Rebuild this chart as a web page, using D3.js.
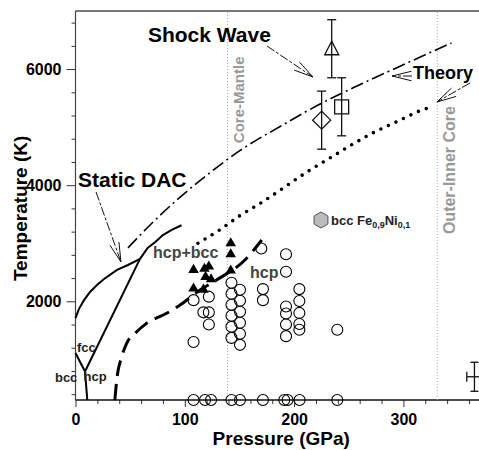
<!DOCTYPE html>
<html><head><meta charset="utf-8">
<script src="https://cdn.jsdelivr.net/npm/d3@7"></script>
<style>
html,body{margin:0;padding:0;background:#fff;}
svg text{font-family:"Liberation Sans",Arial,Helvetica,sans-serif;font-weight:bold;}
</style></head><body>
<svg id="chart" width="479" height="450"></svg>
<script>
// ---------- data ----------
const xMajorTicks = [0, 100, 200, 300];
const xMinorTicks = [20,40,60,80,120,140,160,180,220,240,260,280,320,340,360];
const yMajorTicks = [2000, 4000, 6000];
const yMinorTicks = [400,800,1200,1600,2400,2800,3200,3600,4400,4800,5200,5600,6400,6800];

// Static DAC melting curve (solid)
const meltP = [0, 3.2, 7.8, 13.3, 19.7, 26.1, 38, 48, 59, 66, 73, 80, 88, 97];
const meltT = [1710, 1870, 2020, 2160, 2280, 2385, 2540, 2625, 2730, 2920, 3020, 3140, 3230, 3310];
// fcc/hcp boundary
const fccHcpP = [59, 8.7];
const fccHcpT = [2730, 790];
// bcc/fcc boundary
const bccFccP = [0, 8.7];
const bccFccT = [1110, 790];
// bcc/hcp boundary
const bccHcpP = [8.7, 10.8];
const bccHcpT = [790, 300];
// hcp / hcp+bcc boundary (thick dashed)
const hcpBndP = [36, 37.7, 42.3, 46.8, 56, 65, 83.4, 95.7, 114, 129, 155, 170.4];
const hcpBndT = [300, 644, 1046, 1277, 1476, 1620, 1793, 1936, 2195, 2367, 2711, 3056];
// Theory (dash-dot)
const theoryP = [48, 68, 93, 118, 150, 188, 226, 260, 297, 344];
const theoryT = [2920, 3310, 3750, 4140, 4590, 5020, 5420, 5730, 6050, 6450];
// Theory (dotted)
const dotP = [112, 132, 150, 171, 190, 212, 233, 254, 272, 297, 315, 328];
const dotT = [3000, 3230, 3470, 3710, 3950, 4230, 4470, 4710, 4900, 5120, 5280, 5360];
// hcp+bcc points (filled triangles)
const triP = [108, 118, 122, 119, 124, 108, 117, 142, 142, 142];
const triT = [2540, 2560, 2600, 2420, 2380, 2220, 2200, 3000, 2810, 2530];
// hcp points (open circles)
const circP = [108, 122, 117, 122, 122, 108,
  142.7, 142.7, 142.7, 142.7, 142.7, 142.7,
  150.5, 150.5, 150.5, 150.5, 150.5, 150.5,
  170, 171.5, 171.5,
  192.6, 192.6, 192.6, 192.6, 192.6, 192.6,
  204.8, 204.8, 204.8, 204.8, 204.8,
  239.5,
  108, 118.5, 124, 142.7, 150.5, 171.5, 191, 194, 205, 239.5];
const circT = [2020, 2080, 1810, 1810, 1600, 1300,
  2320, 2130, 1940, 1750, 1560, 1370,
  2200, 2010, 1820, 1630, 1440, 1250,
  2910, 2210, 2020,
  2810, 2510, 1910, 1790, 1600, 1400,
  2210, 2005, 1800, 1610, 1510,
  1510,
  300, 300, 300, 300, 300, 300, 300, 300, 300, 300];
// Shock wave points
const shockNames = ["triangle", "square", "diamond"];
const shockP = [234.4, 243.5, 225.2];
const shockT = [6350, 5350, 5120];
const shockErr = [500, 500, 500];
// representative error bar
const errP = [365], errT = [700], errDP = [7], errDT = [250];
// boundaries
const cmbP = 139, icbP = 331;
// bcc Fe0.9Ni0.1 marker
const feniP = [224.6], feniT = [3400];

// ---------- scales ----------
const svg = d3.select("#chart");
const x = d3.scaleLinear().domain([0, 370]).range([75.5, 75.5 + 370 * 1.093]);
const y = d3.scaleLinear().domain([300, 7000]).range([400, 11]);
const zip = (a, b) => a.map((v, i) => [v, b[i]]);
const line = d3.line().x(d => x(d[0])).y(d => y(d[1]));
const smooth = d3.line().x(d => x(d[0])).y(d => y(d[1])).curve(d3.curveMonotoneX);

// ---------- axes ----------
const fontAxis = "16px";
// y minor
svg.append("g").attr("transform", `translate(${x(0)},0)`)
  .call(d3.axisLeft(y).tickValues(yMinorTicks).tickSize(4).tickSizeOuter(0).tickFormat(""))
  .call(g => g.select(".domain").remove())
  .call(g => g.selectAll("line").attr("stroke", "#333"));
svg.append("g").attr("transform", `translate(${x(0)},0)`)
  .call(d3.axisLeft(y).tickValues(yMajorTicks).tickSize(9).tickSizeOuter(0).tickPadding(5).tickFormat(d3.format("d")))
  .call(g => g.select(".domain").remove())
  .call(g => g.selectAll("line").attr("stroke", "#333"))
  .call(g => g.selectAll("text").attr("font-size", fontAxis).attr("fill", "#000"));
// x minor
svg.append("g").attr("transform", `translate(0,${y(300)})`)
  .call(d3.axisBottom(x).tickValues(xMinorTicks).tickSize(4).tickSizeOuter(0).tickFormat(""))
  .call(g => g.select(".domain").remove())
  .call(g => g.selectAll("line").attr("stroke", "#333"));
svg.append("g").attr("transform", `translate(0,${y(300)})`)
  .call(d3.axisBottom(x).tickValues(xMajorTicks).tickSize(7).tickSizeOuter(0).tickPadding(7).tickFormat(d3.format("d")))
  .call(g => g.select(".domain").remove())
  .call(g => g.selectAll("line").attr("stroke", "#333"))
  .call(g => g.selectAll("text").attr("font-size", fontAxis).attr("fill", "#000"));

// frame lines
svg.append("line").attr("x1", x(0)).attr("x2", x(370)).attr("y1", y(300)).attr("y2", y(300))
  .attr("stroke", "#111").attr("stroke-width", 1.3);
svg.append("line").attr("x1", x(0)).attr("x2", x(0)).attr("y1", y(300)).attr("y2", y(7000))
  .attr("stroke", "#444").attr("stroke-width", 1.2);
svg.append("line").attr("x1", x(0)).attr("x2", x(370)).attr("y1", y(7000)).attr("y2", y(7000))
  .attr("stroke", "#777").attr("stroke-width", 2);

// axis titles
svg.append("text").attr("x", (x(0) + 487) / 2).attr("y", 445).attr("text-anchor", "middle")
  .attr("font-size", "19px").text("Pressure (GPa)");
svg.append("text").attr("transform", `translate(27,${y(3600)}) rotate(-90)`).attr("text-anchor", "middle")
  .attr("font-size", "19px").text("Temperature (K)");

// boundaries (dotted gray)
[cmbP, icbP].forEach(p => {
  svg.append("line").attr("x1", x(p)).attr("x2", x(p)).attr("y1", y(300)).attr("y2", y(7000))
    .attr("stroke", "#aaa").attr("stroke-width", 1).attr("stroke-dasharray", "1 2");
});
svg.append("text").attr("transform", `translate(${x(cmbP) + 17},${y(5470)}) rotate(-90)`)
  .attr("text-anchor", "middle").attr("font-size", "15px").attr("fill", "#999").text("Core-Mantle");
svg.append("text").attr("transform", `translate(${x(icbP) + 18},${y(4260)}) rotate(-90)`)
  .attr("text-anchor", "middle").attr("font-size", "16px").attr("fill", "#999").text("Outer-Inner Core");

// ---------- lines ----------
svg.append("path").attr("d", line(zip(meltP, meltT))).attr("fill", "none").attr("stroke", "#000").attr("stroke-width", 2);
svg.append("path").attr("d", line(zip(fccHcpP, fccHcpT))).attr("fill", "none").attr("stroke", "#000").attr("stroke-width", 2);
svg.append("path").attr("d", line(zip(bccFccP, bccFccT))).attr("fill", "none").attr("stroke", "#000").attr("stroke-width", 2);
svg.append("path").attr("d", line(zip(bccHcpP, bccHcpT))).attr("fill", "none").attr("stroke", "#000").attr("stroke-width", 2);
svg.append("path").attr("d", smooth(zip(hcpBndP, hcpBndT))).attr("fill", "none").attr("stroke", "#000")
  .attr("stroke-width", 3).attr("stroke-dasharray", "16 8");
svg.append("path").attr("d", smooth(zip(theoryP, theoryT))).attr("fill", "none").attr("stroke", "#000")
  .attr("stroke-width", 1.6).attr("stroke-dasharray", "13 4 2 4");
svg.append("path").attr("d", smooth(zip(dotP, dotT))).attr("fill", "none").attr("stroke", "#000")
  .attr("stroke-width", 3.6).attr("stroke-linecap", "round").attr("stroke-dasharray", "0 8.3");

// ---------- markers ----------
svg.append("g").selectAll("circle").data(zip(circP, circT)).join("circle")
  .attr("cx", d => x(d[0])).attr("cy", d => y(d[1])).attr("r", 5.5)
  .attr("fill", "none").attr("stroke", "#000").attr("stroke-width", 1.1);
svg.append("g").selectAll("path").data(zip(triP, triT)).join("path")
  .attr("transform", d => `translate(${x(d[0])},${y(d[1])})`)
  .attr("d", d3.symbol().type(d3.symbolTriangle).size(48)).attr("fill", "#000");

// shock wave points with error bars
const sg = svg.append("g").attr("stroke", "#111").attr("fill", "none").attr("stroke-width", 1.3);
shockP.forEach((p, i) => {
  const cx = x(p), cy = y(shockT[i]);
  const t = y(shockT[i] + shockErr[i]), b = y(shockT[i] - shockErr[i]);
  sg.append("line").attr("x1", cx).attr("x2", cx).attr("y1", t).attr("y2", b);
  sg.append("line").attr("x1", cx - 4.5).attr("x2", cx + 4.5).attr("y1", t).attr("y2", t);
  sg.append("line").attr("x1", cx - 4.5).attr("x2", cx + 4.5).attr("y1", b).attr("y2", b);
  let d;
  if (shockNames[i] === "triangle") d = `M${cx},${cy - 7.6}L${cx + 7},${cy + 6}L${cx - 7},${cy + 6}Z`;
  else if (shockNames[i] === "square") d = `M${cx - 7},${cy - 7}h14v14h-14Z`;
  else d = `M${cx},${cy - 9}L${cx + 9},${cy}L${cx},${cy + 9}L${cx - 9},${cy}Z`;
  sg.append("path").attr("d", d);
});
// representative error bar
errP.forEach((p, i) => {
  const cx = x(p), cy = y(errT[i]);
  const l = x(p - errDP[i]), r = x(p + errDP[i]);
  const t = y(errT[i] + errDT[i]), b = y(errT[i] - errDT[i]);
  sg.append("line").attr("x1", cx).attr("x2", cx).attr("y1", t).attr("y2", b);
  sg.append("line").attr("x1", cx - 4).attr("x2", cx + 4).attr("y1", t).attr("y2", t);
  sg.append("line").attr("x1", cx - 4).attr("x2", cx + 4).attr("y1", b).attr("y2", b);
  sg.append("line").attr("x1", l).attr("x2", r).attr("y1", cy).attr("y2", cy);
  sg.append("line").attr("x1", l).attr("x2", l).attr("y1", cy - 5).attr("y2", cy + 5);
  sg.append("line").attr("x1", r).attr("x2", r).attr("y1", cy - 5).attr("y2", cy + 5);
});

// bcc Fe0.9Ni0.1 hexagon
feniP.forEach((p, i) => {
  const cx = x(p), cy = y(feniT[i]), R = 8;
  const pts = d3.range(6).map(k => {
    const a = Math.PI / 6 + k * Math.PI / 3;
    return [cx + R * Math.cos(a), cy + R * Math.sin(a)];
  });
  svg.append("path").attr("d", "M" + pts.join("L") + "Z").attr("fill", "#bbb").attr("stroke", "#555").attr("stroke-width", 1);
});
const ft = svg.append("text").attr("x", x(233.8)).attr("y", y(3314)).attr("font-size", "13px").attr("fill", "#222");
ft.append("tspan").text("bcc Fe");
ft.append("tspan").attr("font-size", "9px").attr("dy", 3).text("0,9");
ft.append("tspan").attr("dy", -3).text("Ni");
ft.append("tspan").attr("font-size", "9px").attr("dy", 3).text("0,1");

// ---------- annotation arrows ----------
function arrow(p1, t1, p2, t2) {
  const x1 = x(p1), y1 = y(t1), x2 = x(p2), y2 = y(t2);
  const g = svg.append("g").attr("stroke", "#111").attr("fill", "none").attr("stroke-width", 1);
  g.append("line").attr("x1", x1).attr("y1", y1).attr("x2", x2).attr("y2", y2).attr("stroke-dasharray", "9 2 3 2");
  const ang = Math.atan2(y1 - y2, x1 - x2), L = 20, h = 0.24;
  [ang - h, ang + h].forEach(a => {
    g.append("line").attr("x1", x2).attr("y1", y2).attr("x2", x2 + L * Math.cos(a)).attr("y2", y2 + L * Math.sin(a));
  });
}
arrow(18.8, 3882, 41.6, 2677);
arrow(175.2, 6397, 217.3, 5863);
arrow(307.9, 5880, 289.6, 5880);
arrow(360.9, 5760, 330.7, 5433);

// ---------- labels ----------
svg.append("text").attr("x", x(66.3)).attr("y", y(6466)).attr("font-size", "21px").attr("fill", "#000").text("Shock Wave");
svg.append("text").attr("x", x(2.3)).attr("y", y(3969)).attr("font-size", "21px").attr("fill", "#000").text("Static DAC");
svg.append("text").attr("x", x(308.8)).attr("y", y(5829)).attr("font-size", "18px").attr("fill", "#000").text("Theory");
svg.append("text").attr("x", x(70.9)).attr("y", y(2746)).attr("font-size", "16px").attr("fill", "#444").text("hcp+bcc");
svg.append("text").attr("x", x(159.7)).attr("y", y(2401)).attr("font-size", "16px").attr("fill", "#444").text("hcp");
svg.append("text").attr("x", x(1.4)).attr("y", y(1127)).attr("font-size", "13px").attr("fill", "#222").text("fcc");
svg.append("text").attr("x", x(-18.8)).attr("y", y(610)).attr("font-size", "13px").attr("fill", "#222").text("bcc");
svg.append("text").attr("x", x(7.3)).attr("y", y(627)).attr("font-size", "13px").attr("fill", "#222").text("hcp");
</script>
</body></html>
